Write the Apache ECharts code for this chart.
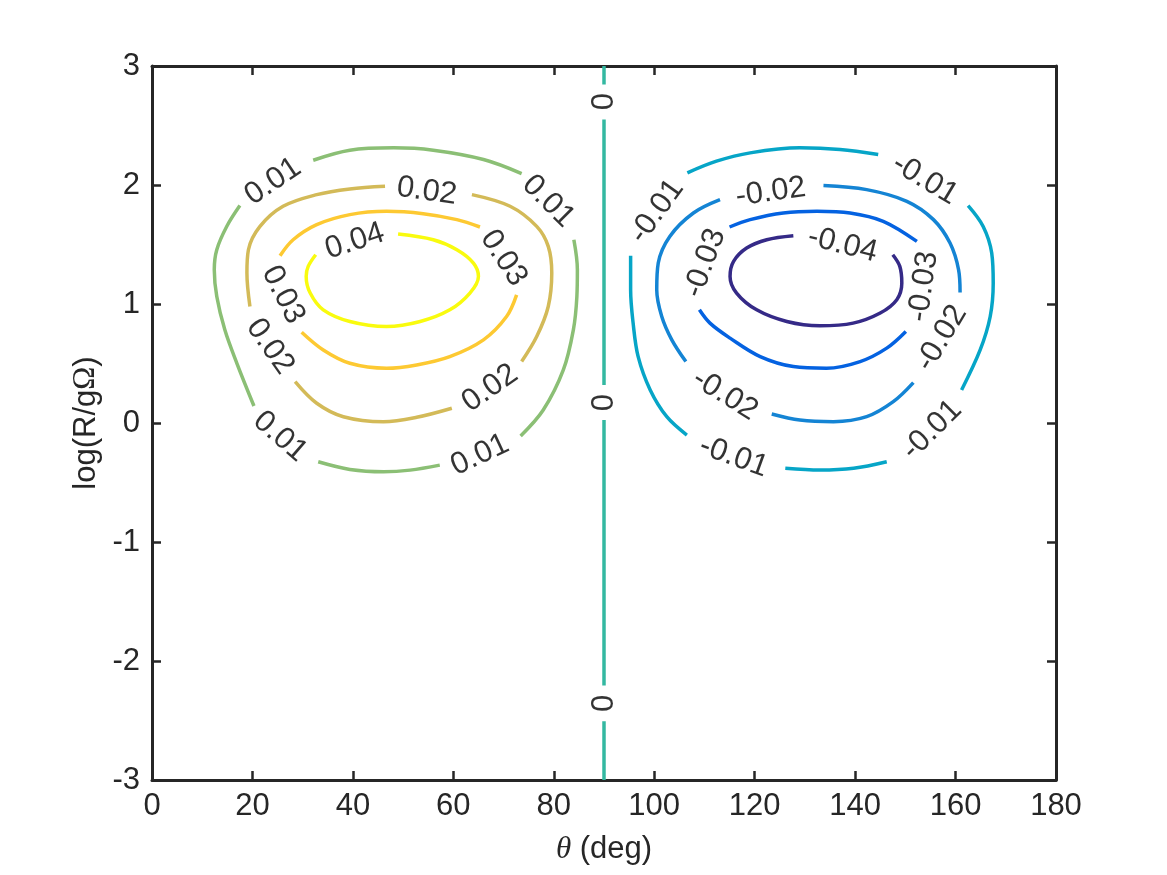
<!DOCTYPE html>
<html>
<head>
<meta charset="utf-8">
<title>contour</title>
<script src="https://cdn.jsdelivr.net/npm/echarts@6/dist/echarts.min.js"></script>
<style>
  html, body { margin: 0; padding: 0; background: #fff; }
  #chart { width: 1167px; height: 875px; }
</style>
</head>
<body>
<div id="chart"></div>
<script>
// tick values
const thetaTicks = [0, 20, 40, 60, 80, 100, 120, 140, 160, 180];
const logTicks = [-3, -2, -1, 0, 1, 2, 3];

// contour levels and their parula colours
const levels = [-0.04, -0.03, -0.02, -0.01, 0, 0.01, 0.02, 0.03, 0.04];
const levelColors = ['#352a87', '#0462e1', '#1484d4', '#06a5c7', '#33b8a1', '#8bbf75', '#d3ba58', '#fdc932', '#f9fb0e'];

// every contour is a list of pieces [theta, logR], broken where a label sits
const pos04 = [
  [[49.0, 1.588], [56.0, 1.540], [60.7, 1.456], [64.0, 1.344], [65.0, 1.232], [63.3, 1.092], [59.3, 0.951], [53.4, 0.853],
   [46.7, 0.811], [39.4, 0.853], [34.1, 0.951], [31.5, 1.092], [30.7, 1.232], [31.1, 1.316], [32.6, 1.414]]
];
const pos03 = [
  [[25.5, 1.406], [28.1, 1.540], [32.8, 1.667], [39.4, 1.751], [46.7, 1.779], [54.0, 1.759], [60.7, 1.709], [65.3, 1.647]],
  [[72.6, 1.077], [70.6, 0.895], [66.0, 0.699], [59.3, 0.558], [52.7, 0.488], [46.7, 0.460], [39.4, 0.502], [34.1, 0.614], [29.8, 0.763]]
];
const pos02 = [
  [[46.4, 1.989], [39.4, 1.967], [32.8, 1.919], [26.1, 1.821], [21.5, 1.652], [19.2, 1.456], [18.9, 1.260], [19.5, 0.979]],
  [[28.5, 0.348], [32.8, 0.166], [38.1, 0.053], [46.1, 0.011], [52.7, 0.048], [59.7, 0.124]],
  [[73.6, 0.516], [76.6, 0.726], [78.9, 0.979], [79.6, 1.260], [78.9, 1.484], [76.6, 1.652], [71.3, 1.821], [63.7, 1.919]]
];
const pos01 = [
  [[17.5, 1.827], [14.9, 1.653], [12.9, 1.456], [12.4, 1.288], [12.9, 1.063], [14.5, 0.783], [16.9, 0.502], [20.3, 0.143]],
  [[33.1, -0.326], [39.4, -0.390], [46.1, -0.410], [51.4, -0.396], [57.3, -0.354]],
  [[73.4, -0.109], [77.9, 0.109], [81.9, 0.446], [83.9, 0.783], [84.6, 1.063], [84.7, 1.288], [84.0, 1.540]],
  [[73.6, 2.096], [66.0, 2.214], [56.0, 2.292], [48.1, 2.312], [39.4, 2.292], [32.1, 2.208]]
];
const zero = [
  [[90, 3], [90, 2.845]],
  [[90, 2.551], [90, 0.320]],
  [[90, 0.025], [90, -2.205]],
  [[90, -2.506], [90, -3]]
];
const neg01 = [
  [[106.6, 2.102], [112.4, 2.200], [119.1, 2.270], [129.0, 2.312], [137.0, 2.298], [144.6, 2.256]],
  [[162.5, 1.827], [165.5, 1.652], [167.2, 1.428], [167.5, 1.176], [166.9, 0.895], [164.9, 0.614], [161.2, 0.278]],
  [[146.3, -0.326], [139.7, -0.381], [133.0, -0.396], [126.1, -0.381]],
  [[106.5, -0.101], [102.5, 0.053], [99.2, 0.278], [96.8, 0.558], [95.8, 0.839], [95.3, 1.120], [95.3, 1.406]]
];
const neg02 = [
  [[113.1, 1.877], [107.8, 1.765], [103.1, 1.568], [100.8, 1.344], [100.5, 1.120], [101.5, 0.895], [103.5, 0.699], [106.3, 0.516]],
  [[123.4, 0.076], [129.0, 0.025], [135.7, 0.011], [142.3, 0.053], [147.6, 0.179], [151.6, 0.339]],
  [[160.9, 1.097], [160.6, 1.288], [158.9, 1.512], [155.6, 1.709], [150.3, 1.863], [142.3, 1.961], [133.7, 1.995]]
];
const neg03 = [
  [[115.0, 1.647], [119.1, 1.709], [125.7, 1.765], [132.4, 1.779], [139.0, 1.765], [145.6, 1.695], [152.3, 1.526]],
  [[150.1, 0.769], [146.3, 0.629], [141.0, 0.516], [134.3, 0.460], [127.7, 0.474], [121.1, 0.558], [115.1, 0.713], [111.1, 0.839], [109.0, 0.951]]
];
const neg04 = [
  [[127.7, 1.574], [122.4, 1.540], [118.4, 1.470], [115.8, 1.358], [115.1, 1.232], [116.4, 1.092], [120.4, 0.951], [126.4, 0.853],
   [133.0, 0.817], [139.6, 0.839], [145.0, 0.924], [148.3, 1.036], [149.3, 1.176], [148.9, 1.316], [147.5, 1.414]]
];

// inline labels: [theta, logR, level]
const contourLabels = [
  [24.1, 2.03, 0.01], [54.7, 1.947, 0.02], [78.9, 1.863, 0.01], [40.4, 1.526, 0.04], [70.0, 1.386, 0.03],
  [26.1, 1.077, 0.03], [23.5, 0.642, 0.02], [67.3, 0.292, 0.02], [25.5, -0.115, 0.01], [65.3, -0.269, 0.01],
  [90, 2.70, 0], [90, 0.172, 0], [90, -2.356, 0],
  [100.5, 1.779, -0.01], [153.9, 2.045, -0.01], [123.2, 1.939, -0.02], [110.1, 1.344, -0.03], [137.5, 1.498, -0.04],
  [153.6, 1.147, -0.03], [157.2, 0.713, -0.02], [114.1, 0.236, -0.02], [115.8, -0.283, -0.01], [155.3, -0.059, -0.01]
];
const labelAngles = [34, -8, -45, 18, -57, -63, -55, 35, -41, 25, 90, 90, 90, 54, -31, 8, 70, -14, 82, 59, -32, -20, 45];

const contours = [
  [-0.04, neg04], [-0.03, neg03], [-0.02, neg02], [-0.01, neg01], [0, zero],
  [0.01, pos01], [0.02, pos02], [0.03, pos03], [0.04, pos04]
];

const FONT = '"Liberation Sans", Arial, Helvetica, sans-serif';
const SERIF = '"Liberation Serif", "Times New Roman", serif';
const AXIS = '#262626';
const FS = 31;

function colorOf(level) {
  return levelColors[levels.indexOf(level)];
}

const series = [];
contours.forEach(([lev, pieces]) => {
  pieces.forEach(piece => {
    series.push({
      type: 'line',
      data: piece,
      smooth: 0.35,
      symbol: 'none',
      silent: true,
      lineStyle: { color: colorOf(lev), width: 3.5 },
      z: 2
    });
  });
});

series.push({
  type: 'scatter',
  symbol: 'circle',
  symbolSize: 1,
  silent: true,
  itemStyle: { color: 'rgba(0,0,0,0)' },
  label: {
    show: true,
    position: 'inside',
    color: '#000',
    fontSize: FS,
    fontFamily: FONT,
    formatter: p => p.name
  },
  data: contourLabels.map((l, i) => ({
    name: String(l[2]),
    value: [l[0], l[1]],
    label: { rotate: labelAngles[i] }
  })),
  z: 3
});

const tickStyle = { show: true, inside: true, length: 9, lineStyle: { color: AXIS, width: 2.5 } };
const lineStyle = { show: true, onZero: false, lineStyle: { color: AXIS, width: 3 } };

const chart = echarts.init(document.getElementById('chart'));
chart.setOption({
  animation: false,
  backgroundColor: '#fff',
  grid: { left: 152, top: 66, right: 111, bottom: 95, containLabel: false },
  xAxis: [
    {
      type: 'value',
      min: thetaTicks[0],
      max: thetaTicks[thetaTicks.length - 1],
      interval: thetaTicks[1] - thetaTicks[0],
      axisLine: lineStyle,
      axisTick: tickStyle,
      splitLine: { show: false },
      axisLabel: { color: AXIS, fontSize: FS, fontFamily: FONT, margin: 11 },
      name: '{t|θ} (deg)',
      nameLocation: 'middle',
      nameGap: 54,
      nameTextStyle: {
        color: AXIS, fontSize: FS, fontFamily: FONT,
        rich: { t: { color: AXIS, fontSize: FS, fontFamily: SERIF, fontStyle: 'italic' } }
      }
    },
    {
      type: 'value',
      position: 'top',
      min: thetaTicks[0],
      max: thetaTicks[thetaTicks.length - 1],
      interval: thetaTicks[1] - thetaTicks[0],
      axisLine: lineStyle,
      axisTick: tickStyle,
      splitLine: { show: false },
      axisLabel: { show: false }
    }
  ],
  yAxis: [
    {
      type: 'value',
      min: logTicks[0],
      max: logTicks[logTicks.length - 1],
      interval: logTicks[1] - logTicks[0],
      axisLine: lineStyle,
      axisTick: tickStyle,
      splitLine: { show: false },
      axisLabel: { color: AXIS, fontSize: FS, fontFamily: FONT, margin: 12 },
      name: 'log(R/g{o|Ω})',
      nameLocation: 'middle',
      nameGap: 48,
      nameTextStyle: {
        color: AXIS, fontSize: FS, fontFamily: FONT,
        rich: { o: { color: AXIS, fontSize: FS, fontFamily: SERIF } }
      }
    },
    {
      type: 'value',
      position: 'right',
      min: logTicks[0],
      max: logTicks[logTicks.length - 1],
      interval: logTicks[1] - logTicks[0],
      axisLine: lineStyle,
      axisTick: tickStyle,
      splitLine: { show: false },
      axisLabel: { show: false }
    }
  ],
  series: series
});
</script>
</body>
</html>
